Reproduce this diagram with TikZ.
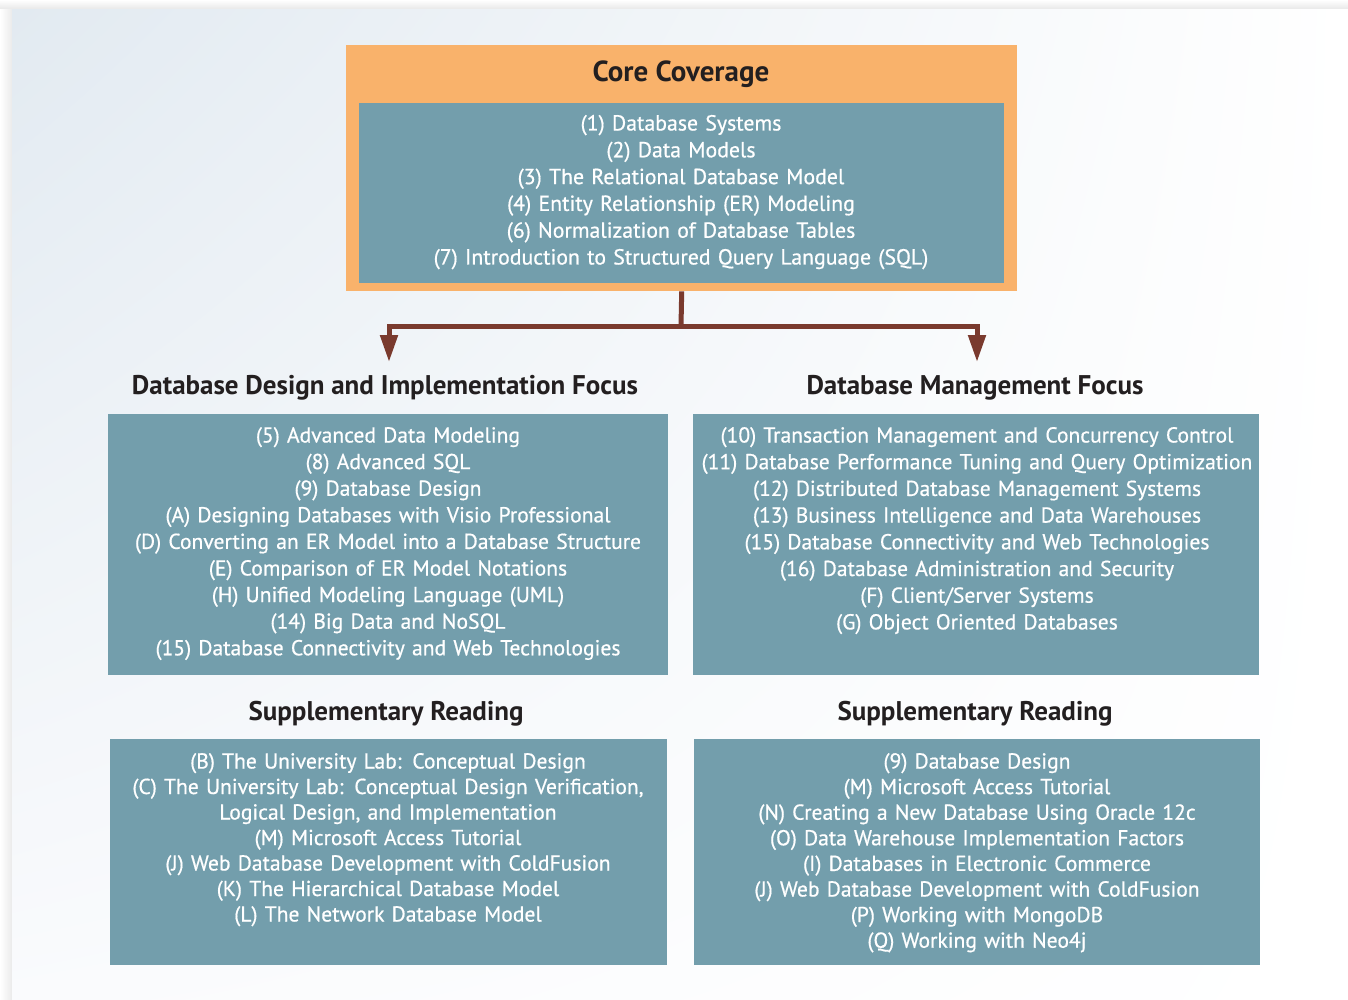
\documentclass[tikz,border=0pt]{standalone}
\usepackage{fontspec}
\setmainfont{PT Sans}
\newfontfamily\bodyfont{PT Sans}[FakeBold=0.6]
\usetikzlibrary{arrows.meta,shadings}
\definecolor{orangebox}{HTML}{F9B26B}
\definecolor{tealbox}{HTML}{739EAC}
\definecolor{arrowred}{HTML}{7A3A2E}
\definecolor{headtext}{HTML}{231F20}
\definecolor{bgA}{HTML}{E2EAF1}
\definecolor{bgN}{HTML}{FAFBFD}
\begin{document}
\begin{tikzpicture}[x=1pt,y=-1pt,
  panel/.style={fill=tealbox, draw=none, inner sep=0pt, anchor=north west},
  itemlist/.style={text=white, align=center, inner sep=0pt, anchor=base, text width=#1},
  headingtxt/.style={text=headtext, font=\fontsize{27}{32}\selectfont\bfseries, inner sep=0pt, anchor=base},
  flow/.style={draw=arrowred, line width=5pt, -{Triangle[length=27pt,width=17pt]}}
]
\useasboundingbox (0,0) rectangle (1348,1000);
% background and shadow
\fill[white] (0,0) rectangle (1348,1000);
\shade[top color=white, bottom color=black!10] (0,0) rectangle (1348,10);
\shade[left color=white, right color=black!8] (0,10) rectangle (12,1000);
\shade[upper left=bgA, upper right=white, lower left=bgN, lower right=white] (12,10) rectangle (1348,1000);

% core box
\node[fill=orangebox, inner sep=0pt, minimum width=671pt, minimum height=246pt, anchor=north west] (core) at (346,45) {};
\node[headingtxt, font=\fontsize{29}{34}\selectfont\bfseries] (coretitle) at (681,82) {Core Coverage};
\node[panel, minimum width=645pt, minimum height=180pt] (coreinner) at (359,103) {};
\node[itemlist=640pt, font=\bodyfont\fontsize{21.8}{26.8}\selectfont] (corelist) at (681,130.5) {(1) Database Systems\\
(2) Data Models\\
(3) The Relational Database Model\\
(4) Entity Relationship (ER) Modeling\\
(6) Normalization of Database Tables\\
(7) Introduction to Structured Query Language (SQL)};

% headings
\node[headingtxt] (lefthead) at (385,394) {Database Design and Implementation Focus};
\node[headingtxt] (righthead) at (975,394) {Database Management Focus};

% arrows
\coordinate (split) at (681,326);
\coordinate (lefttip) at (389,362);
\coordinate (righttip) at (977,362);
\draw[draw=arrowred, line width=5pt] (core.south) -- (split);
\draw[flow] (split) -| (lefttip);
\draw[flow] (split) -| (righttip);

% focus boxes
\node[panel, minimum width=560pt, minimum height=261pt] (leftbox) at (108,414) {};
\node[itemlist=556pt, font=\bodyfont\fontsize{21.6}{26.6}\selectfont] (leftlist) at (388,442.5) {(5) Advanced Data Modeling\\
(8) Advanced SQL\\
(9) Database Design\\
(A) Designing Databases with Visio Professional\\
(D) Converting an ER Model into a Database Structure\\
(E) Comparison of ER Model Notations\\
(H) Unified Modeling Language (UML)\\
(14) Big Data and NoSQL\\
(15) Database Connectivity and Web Technologies};

\node[panel, minimum width=566pt, minimum height=261pt] (rightbox) at (693,414) {};
\node[itemlist=564pt, font=\bodyfont\fontsize{21.6}{26.7}\selectfont] (rightlist) at (977,442.5) {(10) Transaction Management and Concurrency Control\\
(11) Database Performance Tuning and Query Optimization\\
(12) Distributed Database Management Systems\\
(13) Business Intelligence and Data Warehouses\\
(15) Database Connectivity and Web Technologies\\
(16) Database Administration and Security\\
(F) Client/Server Systems\\
(G) Object Oriented Databases};

% supplementary headings
\node[headingtxt] (leftsupp) at (386,720) {Supplementary Reading};
\node[headingtxt] (rightsupp) at (975,720) {Supplementary Reading};

% supplementary boxes
\node[panel, minimum width=557pt, minimum height=226pt] (leftsuppbox) at (110,739) {};
\node[itemlist=553pt, font=\bodyfont\fontsize{21.6}{25.5}\selectfont] (leftsupplist) at (388,768.5) {(B) The University Lab: Conceptual Design\\
(C) The University Lab: Conceptual Design Verification,\\
Logical Design, and Implementation\\
(M) Microsoft Access Tutorial\\
(J) Web Database Development with ColdFusion\\
(K) The Hierarchical Database Model\\
(L) The Network Database Model};

\node[panel, minimum width=566pt, minimum height=226pt] (rightsuppbox) at (694,739) {};
\node[itemlist=562pt, font=\bodyfont\fontsize{21.6}{25.6}\selectfont] (rightsupplist) at (977,768.5) {(9) Database Design\\
(M) Microsoft Access Tutorial\\
(N) Creating a New Database Using Oracle 12c\\
(O) Data Warehouse Implementation Factors\\
(I) Databases in Electronic Commerce\\
(J) Web Database Development with ColdFusion\\
(P) Working with MongoDB\\
(Q) Working with Neo4j};
\end{tikzpicture}
\end{document}
